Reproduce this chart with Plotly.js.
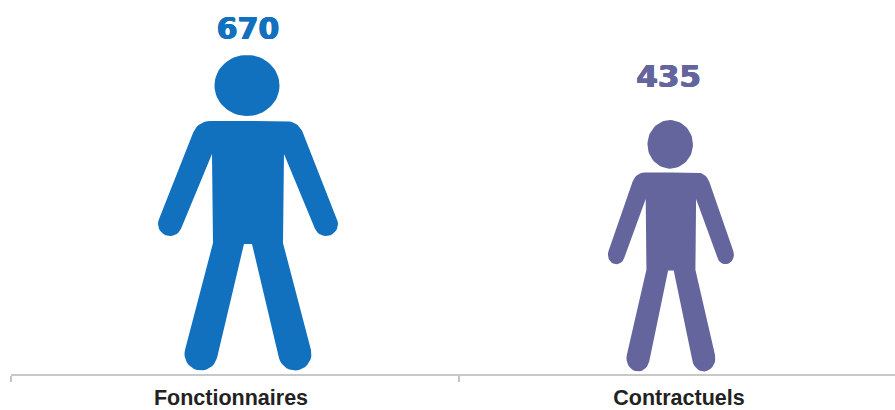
<!DOCTYPE html>
<html>
<head>
<meta charset="utf-8">
<script src="https://cdn.plot.ly/plotly-3.0.1.min.js"></script>
<style>html,body{margin:0;padding:0;background:#fff;overflow:hidden}#chart{width:907px;height:410px}</style>
</head>
<body>
<div id="chart"></div>
<script>
const categories = ['Fonctionnaires', 'Contractuels'];
const effectifs = [670, 435];
const colors = ['#1271BE', '#65659D'];

// Layout constants (not data)
const figureCenters = [0.029, 0.973];
const labelCenters = [0.029, 0.968];
const labelLift = [24, 41];
const labelSizes = [30, 31];
const HEIGHT_EXP = 0.526, WIDTH_EXP = 0.826;
const PX_PER_CAT = 448, PX_PER_Y = 320;

function arc(cx, cy, r, a0, a1, n) {
  const pts = [];
  for (let i = 0; i <= n; i++) {
    const a = (a0 + (a1 - a0) * i / n) * Math.PI / 180;
    pts.push([cx + r * Math.cos(a), cy + r * Math.sin(a)]);
  }
  return pts;
}
// Right half of a generic person silhouette, in design units
const halfBody = [
  [0, 254],
  ...arc(38, 236, 18, 90, 22, 10),
  ...arc(78, 151, 12, 22, -158, 16),
  [36, 221], [35, 132],
  ...arc(47, 21, 16.5, 14, -166, 16),
  [4, 131], [0, 131]
];
const bodyOutline = halfBody.concat(halfBody.slice().reverse().map(p => [-p[0], p[1]]));
const headOutline = arc(0, 0, 1, 0, 360, 64).map(p => [-1 + p[0] * 32.5, 289.5 + p[1] * 30.5]);

const vmax = Math.max(...effectifs);
const traces = [{
  x: categories, y: effectifs.map(v => Math.pow(v / vmax, HEIGHT_EXP)),
  type: 'scatter', mode: 'none', xaxis: 'x', yaxis: 'y', hoverinfo: 'skip', showlegend: false
}];

effectifs.forEach((v, i) => {
  const sx = Math.pow(v / vmax, WIDTH_EXP) / PX_PER_CAT;
  const sy = Math.pow(v / vmax, HEIGHT_EXP) / PX_PER_Y;
  const xs = [], ys = [];
  bodyOutline.forEach(p => { xs.push(figureCenters[i] + p[0] * sx); ys.push(p[1] * sy); });
  xs.push(null); ys.push(null);
  headOutline.forEach(p => { xs.push(figureCenters[i] + p[0] * sx); ys.push(p[1] * sy); });
  traces.push({
    x: xs, y: ys, type: 'scatter', mode: 'lines', fill: 'toself',
    fillcolor: colors[i], line: {width: 0, color: colors[i]},
    xaxis: 'x2', yaxis: 'y', hoverinfo: 'skip', showlegend: false
  });
  traces.push({
    x: [labelCenters[i]],
    y: [Math.pow(v / vmax, HEIGHT_EXP) + labelLift[i] / PX_PER_Y],
    text: [String(v)],
    type: 'scatter', mode: 'text', textposition: 'middle center',
    textfont: {
      family: 'DejaVu Sans', size: labelSizes[i], weight: 700, color: colors[i],
      shadow: '0.6px 0 0 ' + colors[i] + ', -0.6px 0 0 ' + colors[i] + ', 0 0.5px 0 ' + colors[i]
    },
    cliponaxis: false, xaxis: 'x2', yaxis: 'y', hoverinfo: 'skip', showlegend: false
  });
});

const layout = {
  width: 907, height: 410,
  margin: {l: 11, r: 0, t: 0, b: 36},
  paper_bgcolor: '#fff', plot_bgcolor: '#fff',
  showlegend: false,
  xaxis: {
    type: 'category', categoryorder: 'array', categoryarray: categories,
    range: [-0.5, 1.5], tickson: 'boundaries', ticks: 'outside', ticklen: 6, tickwidth: 1.5,
    tickcolor: '#c4c4c4', showline: true, linecolor: '#c8c8c8', linewidth: 1.5,
    showgrid: false, zeroline: false, ticklabelshift: -4, ticklabelstandoff: 4,
    tickfont: {family: 'Liberation Sans', size: 21.5, weight: 700, color: '#222222'}
  },
  xaxis2: {overlaying: 'x', anchor: 'y', range: [-0.5, 1.5], visible: false, fixedrange: true},
  yaxis: {range: [1 / PX_PER_Y, 375 / PX_PER_Y], visible: false, fixedrange: true}
};
Plotly.newPlot('chart', traces, layout, {displayModeBar: false, staticPlot: true});
</script>
</body>
</html>
